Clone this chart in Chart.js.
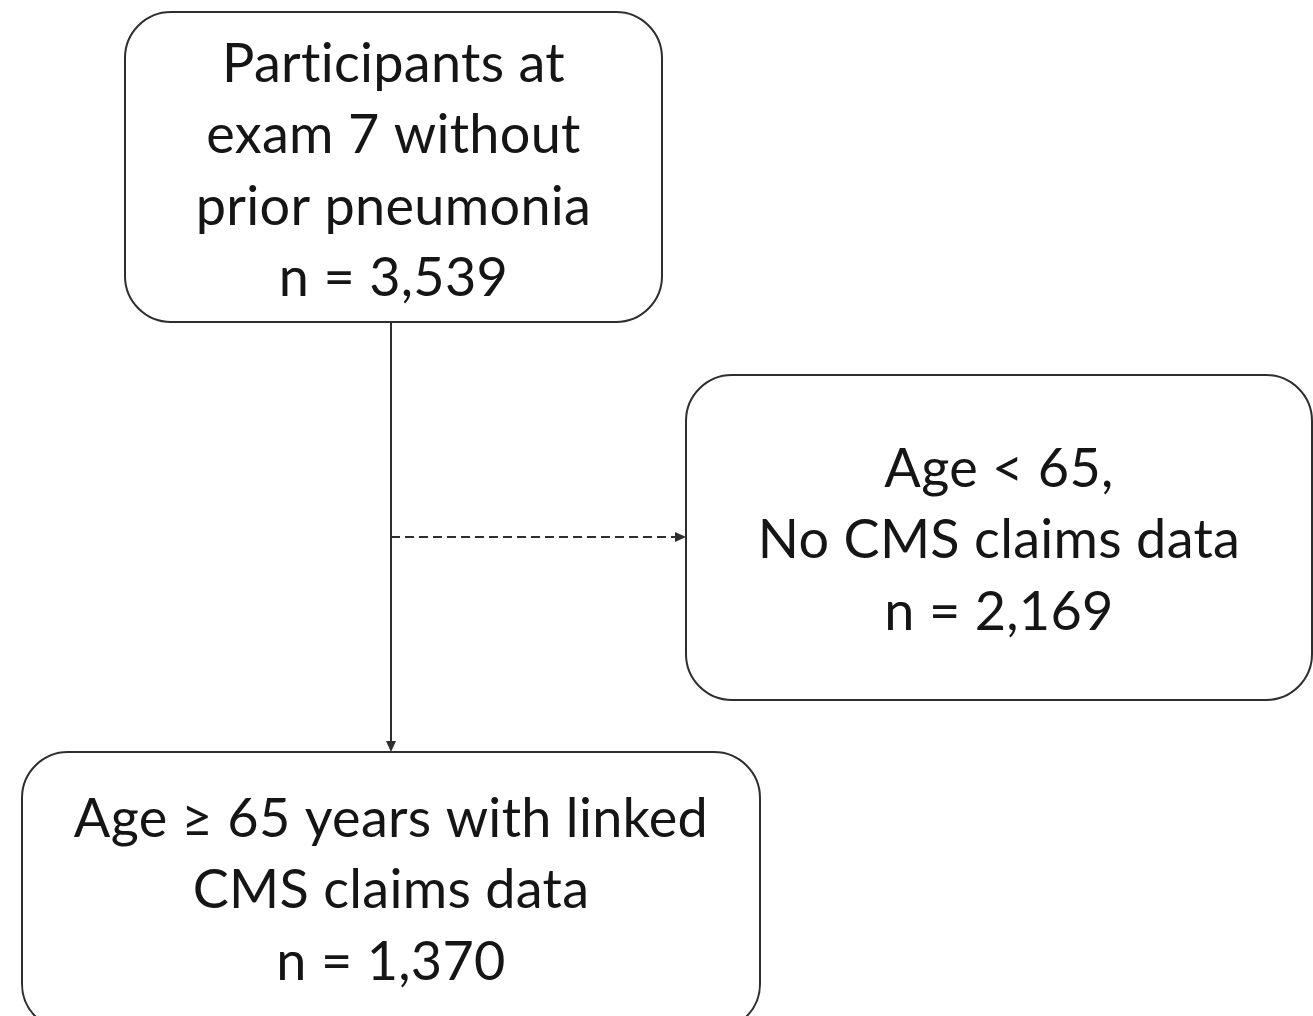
<!DOCTYPE html>
<html>
<head>
<meta charset="utf-8">
<script src="https://cdn.jsdelivr.net/npm/chart.js@4"></script>
<style>
  html, body { margin: 0; padding: 0; background: #fff; }
  #wrap { width: 1313px; height: 1016px; }
</style>
</head>
<body>
<div id="wrap"><canvas id="flow"></canvas></div>
<script>
// box texts and counts of the flow diagram
const boxLabels = [
  ['Participants at', 'exam 7 without', 'prior pneumonia'],
  ['Age < 65,', 'No CMS claims data'],
  ['Age \u2265 65 years with linked', 'CMS claims data']
];
const boxCounts = [3539, 2169, 1370];
// links: from box -> to box, dashed or not
const linkFrom = [0, 0];
const linkTo = [2, 1];
const linkDashed = [false, true];

// layout in scale units (x 0..1313, y 0..1016, y down)
const boxFrames = [
  { x0: 125, y0: 12, x1: 662, y1: 322, cy: 171 },
  { x0: 686, y0: 375, x1: 1312, y1: 700, cy: 540 },
  { x0: 22, y0: 752, x1: 760, y1: 1030, cy: 890 }
];
const stemX = 391;
const branchY = 537;

const LINE = '#2e2e2e';
const TEXT = '#151515';
const FONT = '54px Lato, "Open Sans", sans-serif';
const LINE_GAP = 71.5;

function roundRect(ctx, x0, y0, x1, y1, r) {
  ctx.beginPath();
  ctx.moveTo(x0 + r, y0);
  ctx.lineTo(x1 - r, y0);
  ctx.arcTo(x1, y0, x1, y0 + r, r);
  ctx.lineTo(x1, y1 - r);
  ctx.arcTo(x1, y1, x1 - r, y1, r);
  ctx.lineTo(x0 + r, y1);
  ctx.arcTo(x0, y1, x0, y1 - r, r);
  ctx.lineTo(x0, y0 + r);
  ctx.arcTo(x0, y0, x0 + r, y0, r);
  ctx.closePath();
}

function arrowHead(ctx, x, y, dir) {
  // dir: 'down' or 'right'
  ctx.beginPath();
  if (dir === 'down') {
    ctx.moveTo(x, y);
    ctx.lineTo(x - 5, y - 11);
    ctx.lineTo(x + 5, y - 11);
  } else {
    ctx.moveTo(x, y);
    ctx.lineTo(x - 11, y - 5);
    ctx.lineTo(x - 11, y + 5);
  }
  ctx.closePath();
  ctx.fill();
}

const flowPlugin = {
  id: 'flow',
  afterDraw(chart) {
    const ctx = chart.ctx;
    const sx = chart.scales.x, sy = chart.scales.y;
    const px = v => sx.getPixelForValue(v);
    const py = v => sy.getPixelForValue(v);
    ctx.save();
    ctx.strokeStyle = LINE;
    ctx.fillStyle = LINE;
    ctx.lineWidth = 2;

    // links
    linkFrom.forEach((f, i) => {
      const a = boxFrames[f], b = boxFrames[linkTo[i]];
      ctx.setLineDash(linkDashed[i] ? [9, 5] : []);
      ctx.beginPath();
      if (b.x0 > a.x1 - 1) {
        ctx.moveTo(px(stemX), py(branchY));
        ctx.lineTo(px(b.x0) - 10, py(branchY));
        ctx.stroke();
        ctx.setLineDash([]);
        arrowHead(ctx, px(b.x0), py(branchY), 'right');
      } else {
        ctx.moveTo(px(stemX), py(a.y1));
        ctx.lineTo(px(stemX), py(b.y0) - 10);
        ctx.stroke();
        ctx.setLineDash([]);
        arrowHead(ctx, px(stemX), py(b.y0), 'down');
      }
    });

    // boxes
    ctx.setLineDash([]);
    boxFrames.forEach((fr, i) => {
      roundRect(ctx, px(fr.x0), py(fr.y0), px(fr.x1), py(fr.y1), 46);
      ctx.fillStyle = '#fff';
      ctx.fill();
      ctx.stroke();

      const lines = boxLabels[i].concat(['n = ' + boxCounts[i].toLocaleString('en-US')]);
      ctx.fillStyle = TEXT;
      ctx.font = FONT;
      ctx.letterSpacing = '0.3px'; // also stops the "ti" ligature
      ctx.textAlign = 'center';
      ctx.textBaseline = 'alphabetic';
      const cx = (px(fr.x0) + px(fr.x1)) / 2;
      const top = py(fr.cy) - (lines.length - 1) * LINE_GAP / 2;
      lines.forEach((t, k) => {
        ctx.fillText(t, cx, top + k * LINE_GAP + 18);
      });
      ctx.fillStyle = LINE;
    });
    ctx.restore();
  }
};

new Chart(document.getElementById('flow'), {
  type: 'scatter',
  data: { datasets: [{ data: [] }] },
  options: {
    responsive: true,
    maintainAspectRatio: false,
    animation: false,
    layout: { padding: 0 },
    scales: {
      x: { type: 'linear', min: 0, max: 1313, display: false },
      y: { type: 'linear', min: 0, max: 1016, reverse: true, display: false }
    },
    plugins: { legend: { display: false }, tooltip: { enabled: false } }
  },
  plugins: [flowPlugin]
});
</script>
</body>
</html>
